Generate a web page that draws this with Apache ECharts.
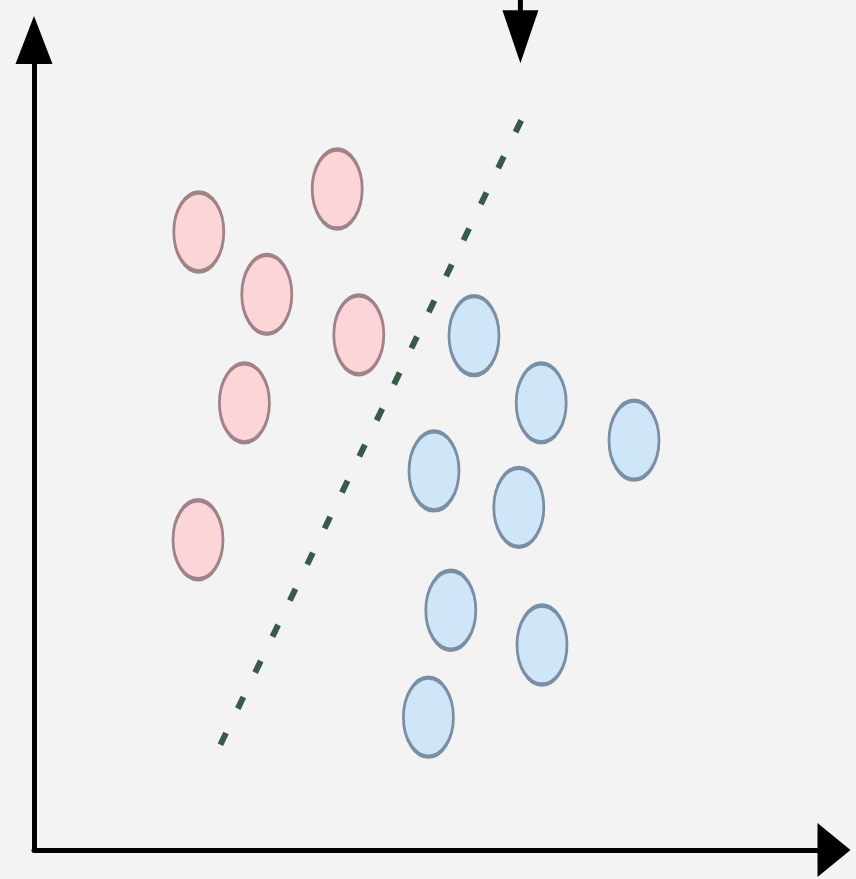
<!DOCTYPE html>
<html>
<head>
<meta charset="utf-8">
<script src="https://cdn.jsdelivr.net/npm/echarts@6/dist/echarts.min.js"></script>
<style>
  html, body { margin: 0; padding: 0; background: #f3f3f3; }
  #chart { width: 856px; height: 879px; }
</style>
</head>
<body>
<div id="chart"></div>
<script>
// class A (pink) and class B (blue) points, axis units 0..10
const pinkPoints = [
  [2.06, 7.63],
  [3.79, 8.16],
  [2.91, 6.86],
  [4.06, 6.36],
  [2.63, 5.52],
  [2.05, 3.83]
]

const bluePoints = [
  [5.50, 6.35],
  [6.34, 5.52],
  [7.50, 5.06],
  [5.00, 4.68],
  [6.06, 4.23],
  [5.21, 2.96],
  [6.35, 2.53],
  [4.93, 1.64]
]

// separating boundary (dashed)
const boundaryLine = [[2.33, 1.30], [6.14, 9.11]]

// arrow coming down from the top edge
const topArrowStem = [[6.08, 10.56], [6.08, 10.2]]
const topArrowHead = [[6.08, 10.04]]

const ellipse = 'path://M50,0A50,50,0,1,1,50,100A50,50,0,1,1,50,0Z'

const chart = echarts.init(document.getElementById('chart'))

chart.setOption({
  backgroundColor: '#f3f3f3',
  animation: false,
  grid: { left: 34, right: 22, top: 40, bottom: 29 },
  xAxis: {
    type: 'value',
    min: 0,
    max: 10,
    axisLine: {
      show: true,
      symbol: ['none', 'triangle'],
      symbolSize: [54, 33],
      lineStyle: { color: '#000', width: 5 }
    },
    axisTick: { show: false },
    axisLabel: { show: false },
    splitLine: { show: false }
  },
  yAxis: {
    type: 'value',
    min: 0,
    max: 10,
    axisLine: {
      show: true,
      symbol: ['none', 'triangle'],
      symbolSize: [37, 48],
      lineStyle: { color: '#000', width: 5 }
    },
    axisTick: { show: false },
    axisLabel: { show: false },
    splitLine: { show: false }
  },
  series: [
    {
      type: 'line',
      data: boundaryLine,
      showSymbol: false,
      lineStyle: { color: '#385a47', width: 6, type: [13, 27] },
      z: 1
    },
    {
      type: 'scatter',
      data: pinkPoints,
      symbol: ellipse,
      symbolSize: [50, 79],
      itemStyle: { color: '#fcd5d8', borderColor: '#a08388', borderWidth: 3.5, opacity: 1 },
      z: 2
    },
    {
      type: 'scatter',
      data: bluePoints,
      symbol: ellipse,
      symbolSize: [50, 79],
      itemStyle: { color: '#cfe5f8', borderColor: '#7a8fa4', borderWidth: 3.5, opacity: 1 },
      z: 2
    },
    {
      type: 'line',
      data: topArrowStem,
      clip: false,
      showSymbol: false,
      lineStyle: { color: '#000', width: 5 },
      z: 3
    },
    {
      type: 'scatter',
      data: topArrowHead,
      clip: false,
      symbol: 'triangle',
      symbolRotate: 180,
      symbolSize: [36, 53],
      itemStyle: { color: '#000', opacity: 1 },
      z: 3
    }
  ]
})

window.addEventListener('resize', () => chart.resize())
</script>
</body>
</html>
